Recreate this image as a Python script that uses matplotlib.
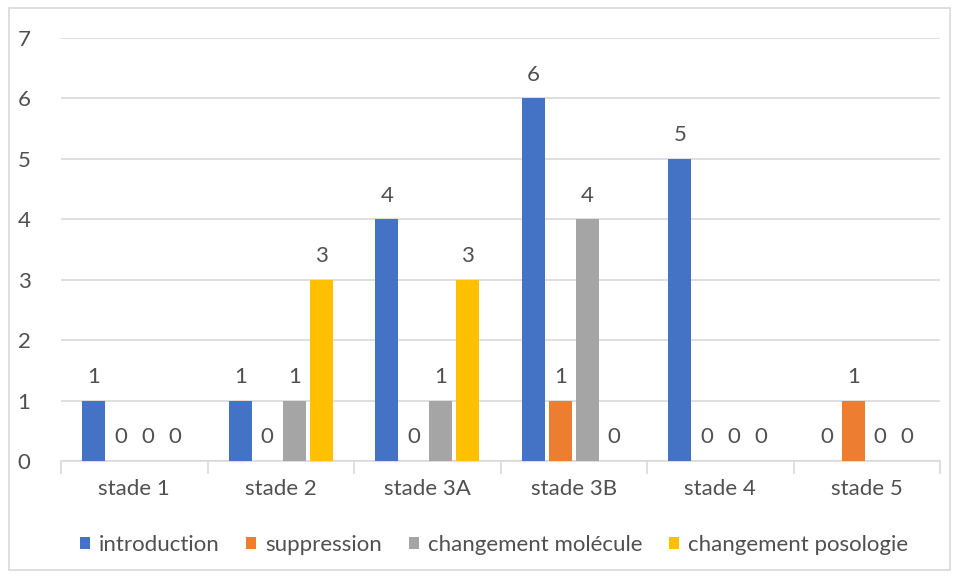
import numpy as np
import matplotlib
matplotlib.use('Agg')
import matplotlib.pyplot as plt
from matplotlib.patches import Rectangle

plt.rcParams['font.family'] = ['Lato', 'DejaVu Sans']

# chart data
stades = ['stade 1', 'stade 2', 'stade 3A', 'stade 3B', 'stade 4', 'stade 5']
series = ['introduction', 'suppression', 'changement molécule', 'changement posologie']
introduction = [1, 1, 4, 6, 5, 0]
suppression = [0, 0, 0, 1, 0, 1]
changement_molecule = [0, 1, 1, 4, 0, 0]
changement_posologie = [0, 3, 3, 0, 0, 0]
colors = ['#4472C4', '#ED7D31', '#A5A5A5', '#FFC000']

values = [introduction, suppression, changement_molecule, changement_posologie]
text_col = '#505050'
grid_col = '#d9d9d9'
fs = 16

fig = plt.figure(figsize=(9.59, 5.79), dpi=100)
fig.patches.append(Rectangle((9/959, 1-570/579), 941/959, 562/579, transform=fig.transFigure,
                             fill=False, edgecolor=grid_col, linewidth=1.2))
ax = fig.add_axes([61/959, 1-461/579, 879/959, 423/579])

x = np.arange(len(stades)) + 0.5
pitch = 0.184
width = 0.157
for k in range(len(series)):
	xs = x + (k - 1.5)*pitch
	bars = ax.bar(xs, values[k], width, color=colors[k], label=series[k], zorder=3)
	for xi, v in zip(xs, values[k]):
		ax.annotate(str(v), (xi, v), xytext=(0, 17), textcoords='offset points',
		            ha='center', va='center', fontsize=fs, color=text_col, zorder=4,
		            bbox=dict(boxstyle='square,pad=0.15', fc='white', ec='none'))

ax.set_xlim(0, 6)
ax.set_ylim(0, 7)
ax.set_yticks(range(8))
ax.yaxis.grid(True, color=grid_col, linewidth=1.2, zorder=0)
ax.set_axisbelow(True)
ax.set_xticks(np.arange(7))
ax.set_xticklabels([])
ax.set_xticks(x, minor=True)
ax.set_xticklabels(stades, minor=True)
ax.tick_params(axis='x', which='major', length=9, color=grid_col, width=1.2)
ax.tick_params(axis='x', which='minor', length=0, pad=13, labelsize=fs, labelcolor=text_col)
ax.tick_params(axis='y', length=0, pad=22, labelsize=fs, labelcolor=text_col)
for s in ['top', 'right', 'left']:
	ax.spines[s].set_visible(False)
ax.spines['bottom'].set_color(grid_col)
ax.spines['bottom'].set_linewidth(1.2)

leg = fig.legend(loc='center', bbox_to_anchor=(0.515, 1-545/579), ncol=4, frameon=False,
                 fontsize=fs, handlelength=0.45, handleheight=0.45, handletextpad=0.4,
                 columnspacing=1.2)
for t in leg.get_texts():
	t.set_color(text_col)

plt.savefig('out.png', dpi=100)
plt.close()
